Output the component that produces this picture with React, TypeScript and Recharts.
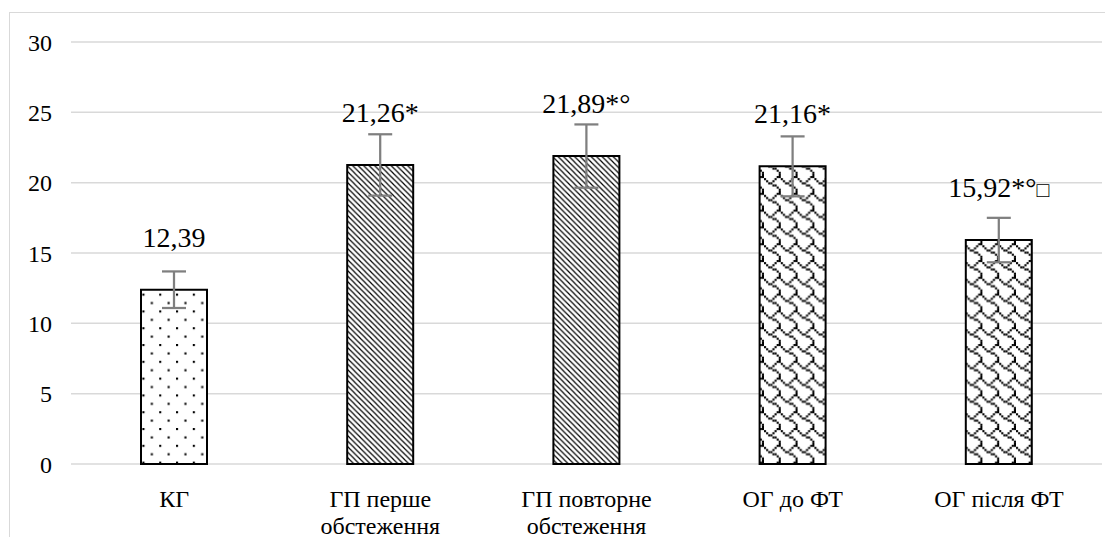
import React from 'react';
import { BarChart, Bar, XAxis, YAxis, CartesianGrid, ErrorBar, Cell, LabelList } from 'recharts';

const categories = ["КГ", "ГП перше\nобстеження", "ГП повторне\nобстеження", "ОГ до ФТ", "ОГ після ФТ"];
const values = [12.39, 21.26, 21.89, 21.16, 15.92];
const errors = [1.3, 2.18, 2.25, 2.13, 1.58];
const valueLabels = ["12,39", "21,26*", "21,89*°", "21,16*", "15,92*°□"];
const yTicks = [0, 5, 10, 15, 20, 25, 30];

const data = categories.map((c, i) => ({ name: c, value: values[i], err: errors[i], label: valueLabels[i] }));

const FONT = "'Liberation Serif', 'Times New Roman', serif";
const patternIds = ["pDots", "pDiag", "pDiag", "pShingle", "pShingle"];

const S = 2.1;
const shingleBits = [0x03, 0x84, 0x48, 0x30, 0x0c, 0x02, 0x01, 0x01];

const shingleRects: React.ReactNode[] = [];
shingleBits.forEach((row, r) => {
  for (let c = 0; c < 8; c++) {
    if ((row >> (7 - c)) & 1) {
      shingleRects.push(<rect key={`${r}-${c}`} x={c * S} y={r * S} width={S} height={S} fill="#000" />);
    }
  }
});

const renderLabel = (props: any) => {
  const { x, y, width, value } = props;
  const str = String(value);
  const hasBox = str.endsWith("□");
  const main = hasBox ? str.slice(0, -1) : str;
  return (
    <text x={Number(x) + Number(width) / 2} y={Number(y) - 43} textAnchor="middle" fill="#000"
      style={{ fontSize: 28, fontFamily: FONT }}>
      {main}
      {hasBox ? <tspan style={{ fontSize: 21 }}>□</tspan> : null}
    </text>
  );
};

const YTick = (props: any) => {
  const { x, y, payload } = props;
  return (
    <text x={x} y={y} dy="0.355em" textAnchor="end" fill="#000" style={{ fontSize: 24, fontFamily: FONT }}>
      {payload.value}
    </text>
  );
};

const CatTick = (props: any) => {
  const { x, y, payload } = props;
  const lines = String(payload.value).split("\n");
  return (
    <text x={x} y={y} textAnchor="middle" fill="#000" style={{ fontSize: 24, fontFamily: FONT }}>
      {lines.map((l, i) => (
        <tspan key={i} x={x} dy={i === 0 ? 43 : 27}>{l}</tspan>
      ))}
    </text>
  );
};

export default function App() {
  return (
    <div style={{ position: 'relative', width: 1105, height: 530 }}>
      <div style={{ position: 'absolute', left: 1, top: 4, width: 1100, height: 524, borderLeft: '1px solid #d9d9d9', borderTop: '1px solid #d9d9d9' }} />
      <BarChart width={1105} height={530} data={data} margin={{ top: 34, right: 11, bottom: 0, left: 0 }}>
        <defs>
          <pattern id="pDots" patternUnits="userSpaceOnUse" width={16.8} height={16.8}>
            <rect x={0} y={0} width={16.8} height={16.8} fill="#fff" />
            <rect x={0} y={0} width={S} height={S} fill="#000" />
            <rect x={8.4} y={8.4} width={S} height={S} fill="#000" />
          </pattern>
          <pattern id="pDiag" patternUnits="userSpaceOnUse" width={5.5} height={5.5}>
            <rect x={0} y={0} width={5.5} height={5.5} fill="#fff" />
            <path d="M0,0 L5.5,5.5 M-1,4.5 L1,6.5 M4.5,-1 L6.5,1" stroke="#000" strokeWidth={1.2} />
          </pattern>
          <pattern id="pShingle" patternUnits="userSpaceOnUse" width={8 * S} height={8 * S}>
            <rect x={0} y={0} width={8 * S} height={8 * S} fill="#fff" />
            {shingleRects}
          </pattern>
        </defs>
        <CartesianGrid horizontal vertical={false} stroke="#d9d9d9" strokeWidth={1.5} />
        <XAxis dataKey="name" interval={0} tickLine={false} axisLine={false} tickSize={0} tickMargin={0} height={74} tick={<CatTick />} />
        <YAxis domain={[0, 30]} ticks={yTicks} width={63} tickLine={false} axisLine={false} tickSize={0} tickMargin={19}
          tick={<YTick />} />
        <Bar dataKey="value" barSize={66} stroke="#000" strokeWidth={2} isAnimationActive={false}>
          {data.map((d, i) => (
            <Cell key={i} fill={`url(#${patternIds[i]})`} />
          ))}
          <ErrorBar dataKey="err" width={12} strokeWidth={2.25} stroke="#7f7f7f" direction="y" isAnimationActive={false} />
          <LabelList dataKey="label" content={renderLabel} />
        </Bar>
      </BarChart>
    </div>
  );
}
